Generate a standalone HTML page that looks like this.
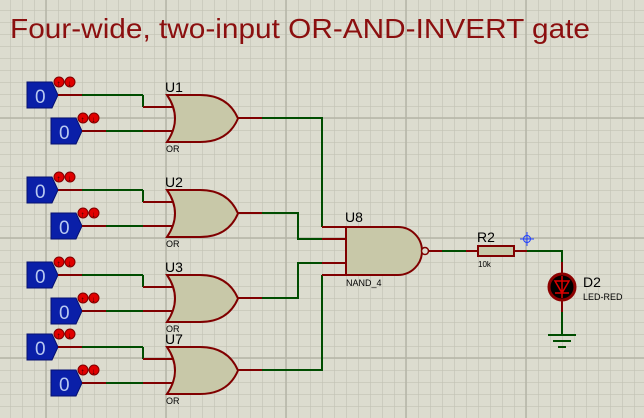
<!DOCTYPE html>
<html><head><meta charset="utf-8"><style>
html,body{margin:0;padding:0;background:#dcdccf;}
svg{display:block;}
text{font-family:"Liberation Sans",sans-serif;}
</style></head><body>
<svg width="644" height="418" viewBox="0 0 644 418" xmlns="http://www.w3.org/2000/svg">
<defs>
<pattern id="g" x="10" y="10" width="12" height="12" patternUnits="userSpaceOnUse">
<path d="M0,0 H12 M0,0 V12" stroke="#c2c2b4" stroke-width="1.2" fill="none"/>
</pattern>
<g id="src">
<polygon points="27,82 52,82 58,95 52,108 27,108" fill="#0a1fa8" stroke="#061070" stroke-width="1"/>
<text x="35" y="103" font-size="19" fill="#b8c8f0">0</text>
<circle cx="59" cy="82" r="5" fill="#e00000" stroke="#800000" stroke-width="1"/>
<circle cx="70" cy="82" r="5" fill="#e00000" stroke="#800000" stroke-width="1"/>
<text x="56.5" y="86" font-size="8" fill="#300" font-weight="bold">↑</text>
<text x="67.5" y="86" font-size="8" fill="#300" font-weight="bold">↓</text>
</g>
<g id="orgate">
<path d="M143,95 V107" stroke="#004d00" stroke-width="2" fill="none"/>
<path d="M58,95 H82" stroke="#800000" stroke-width="2"/>
<path d="M82,95 H143" stroke="#004d00" stroke-width="2"/>
<path d="M82,131 H106" stroke="#800000" stroke-width="2"/>
<path d="M106,131 H143" stroke="#004d00" stroke-width="2"/>
<path d="M143,107 H177 M143,131 H177" stroke="#800000" stroke-width="2"/>
<path d="M167,95 L200,95 Q228,95 238,118.5 Q228,142 200,142 L167,142 Q183,118.5 167,95 Z" fill="#c8c8a8" stroke="#800000" stroke-width="2"/>
<text x="166" y="152" font-size="9" fill="#000">OR</text>
</g>
</defs>
<rect width="644" height="418" fill="#dcdccf"/>
<rect width="644" height="418" fill="url(#g)"/>
<path d="M46,0 V418 M166,0 V418 M286,0 V418 M406,0 V418 M526,0 V418 M0,118 H644 M0,238 H644 M0,358 H644" stroke="#b4b4a6" stroke-width="1.5"/>
<text x="10" y="38" font-size="28" fill="#8b0f0f" textLength="580" lengthAdjust="spacingAndGlyphs">Four-wide, two-input OR-AND-INVERT gate</text>

<!-- gate 1 -->
<use href="#src"/>
<use href="#src" x="24" y="36"/>
<use href="#orgate"/>
<text x="165" y="92" font-size="14">U1</text>
<!-- gate 2 -->
<use href="#src" y="95"/>
<use href="#src" x="24" y="131"/>
<use href="#orgate" y="95"/>
<text x="165" y="187" font-size="14">U2</text>
<!-- gate 3 -->
<use href="#src" y="180"/>
<use href="#src" x="24" y="216"/>
<use href="#orgate" y="180"/>
<text x="165" y="272" font-size="14">U3</text>
<!-- gate 7 -->
<use href="#src" y="252"/>
<use href="#src" x="24" y="288"/>
<use href="#orgate" y="252"/>
<text x="165" y="344" font-size="14">U7</text>

<!-- OR outputs to NAND -->
<g stroke-width="2" fill="none">
<path d="M238,118 H262" stroke="#800000"/>
<path d="M262,118 H322 V227" stroke="#004d00"/>
<path d="M238,213 H262" stroke="#800000"/>
<path d="M262,213 H298 V239 H322" stroke="#004d00"/>
<path d="M238,298 H262" stroke="#800000"/>
<path d="M262,298 H298 V263 H322" stroke="#004d00"/>
<path d="M238,370 H262" stroke="#800000"/>
<path d="M262,370 H322 V275" stroke="#004d00"/>
<path d="M322,227 H346 M322,239 H346 M322,263 H346 M322,275 H346" stroke="#800000"/>
</g>
<!-- NAND -->
<path d="M346,227 H398 A24,24 0 0 1 398,275 H346 Z" fill="#c8c8a8" stroke="#800000" stroke-width="2"/>
<circle cx="425" cy="251" r="3.5" fill="#dcdccf" stroke="#800000" stroke-width="1.5"/>
<text x="345" y="222" font-size="14">U8</text>
<text x="346" y="286" font-size="9">NAND_4</text>
<g stroke-width="2" fill="none">
<path d="M428,251 H442" stroke="#800000"/>
<path d="M442,251 H466" stroke="#004d00"/>
<path d="M466,251 H478" stroke="#800000"/>
<path d="M514,251 H527" stroke="#800000"/>
<path d="M527,251 H562 V262" stroke="#004d00"/>
<path d="M562,262 V278 M562,296 V312" stroke="#800000"/>
<path d="M562,312 V335" stroke="#004d00"/>
<path d="M548,335 H576" stroke="#004d00"/>
<path d="M553,341 H571" stroke="#004d00"/>
<path d="M558,347 H566" stroke="#004d00"/>
</g>
<rect x="478" y="246" width="36" height="10" fill="#c8c8a8" stroke="#800000" stroke-width="2"/>
<text x="477" y="242" font-size="14">R2</text>
<text x="478" y="267" font-size="8">10k</text>
<!-- crosshair -->
<g stroke="#2040ff" stroke-width="1" fill="none">
<circle cx="527" cy="239" r="3.5"/>
<path d="M520,239 H534 M527,232 V246"/>
</g>
<!-- LED -->
<circle cx="562" cy="287" r="13" fill="#000" stroke="#8b0000" stroke-width="3"/>
<path d="M555,281 H569 L562,293 Z M555,293 H569 M562,276 V298" stroke="#d00" stroke-width="1.5" fill="none"/>
<text x="583" y="287" font-size="14">D2</text>
<text x="583" y="300" font-size="9">LED-RED</text>
</svg>
</body></html>
